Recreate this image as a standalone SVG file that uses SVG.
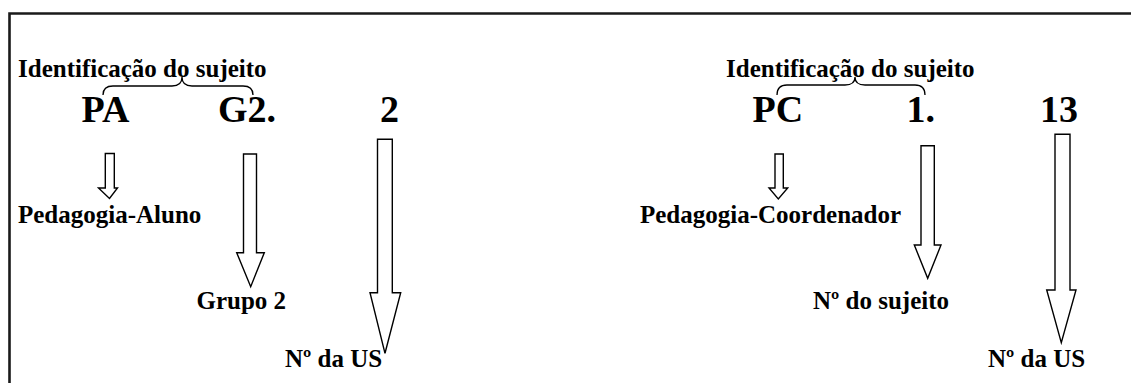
<svg xmlns="http://www.w3.org/2000/svg" width="1131" height="383" viewBox="0 0 1131 383">
<style>
.t{font-family:"Liberation Serif","Times New Roman",serif;font-weight:bold;fill:#000}
.s{font-size:25px}
.b{font-size:38px}
.arr{fill:#fff;stroke:#000;stroke-width:1.4;stroke-linejoin:miter}
.br{fill:none;stroke:#000;stroke-width:1.3}
.frame{fill:none;stroke:#1a1a1a;stroke-width:2.6}
</style>
<rect width="1131" height="383" fill="#fff"/>
<path class="frame" d="M9.5,390 L9.5,13.5 L1135,13.5"/>
<g id="label-id-left"><text class="t s" x="18" y="76.5">Identificação do sujeito</text></g>
<g id="label-id-right"><text class="t s" x="726" y="76.5">Identificação do sujeito</text></g>
<g id="node-PA"><text class="t b" x="81.5" y="121.7">PA</text></g>
<g id="node-G2"><text class="t b" x="218" y="121.7">G2.</text></g>
<g id="node-2"><text class="t b" x="380" y="121.7">2</text></g>
<g id="node-PC"><text class="t b" x="752.5" y="121.7">PC</text></g>
<g id="node-1"><text class="t b" x="906.5" y="121.7">1.</text></g>
<g id="node-13"><text class="t b" x="1040" y="121.7">13</text></g>
<g id="node-ped-aluno"><text class="t s" x="18" y="223.3">Pedagogia-Aluno</text></g>
<g id="node-grupo2"><text class="t s" x="196.5" y="309.3">Grupo 2</text></g>
<g id="node-nus-left"><text class="t s" x="285" y="367.3">Nº da US</text></g>
<g id="node-ped-coord"><text class="t s" x="640" y="223.3">Pedagogia-Coordenador</text></g>
<g id="node-nsujeito"><text class="t s" x="813" y="309.3">Nº do sujeito</text></g>
<g id="node-nus-right"><text class="t s" x="988" y="366.7">Nº da US</text></g>
<g id="connectors">
<path class="br" d="M103,95 Q103,86 113,86 L172,86 Q182,86 182,77 Q182,86 192,86 L243,86 Q253,86 253,95"/>
<path class="br" d="M777,95 Q777,85 787,85 L845,85 Q855,85 855,77 Q855,85 865,85 L915,85 Q925,85 925,95"/>
<polygon class="arr" points="105.3,153.5 114.3,153.5 114.3,188 117.5,188 109.5,198.5 98.5,188 105.3,188"/>
<polygon class="arr" points="243.5,154 256.5,154 256.5,252.7 264.3,252.7 250.7,286.7 236.7,252.7 243.5,252.7"/>
<polygon class="arr" points="377.5,139.3 392.3,139.3 392.3,292.7 400.7,292.7 385,353.3 370,292.7 377.5,292.7"/>
<polygon class="arr" points="775,154 783.3,154 783.3,188 787.7,188 778.3,199 769,188 775,188"/>
<polygon class="arr" points="921,145.7 934.3,145.7 934.3,245 941,245 927.7,278.3 914.3,245 921,245"/>
<polygon class="arr" points="1055,134.3 1070,134.3 1070,290 1076,290 1061.3,342.7 1046.7,290 1055,290"/>
</g>
</svg>
